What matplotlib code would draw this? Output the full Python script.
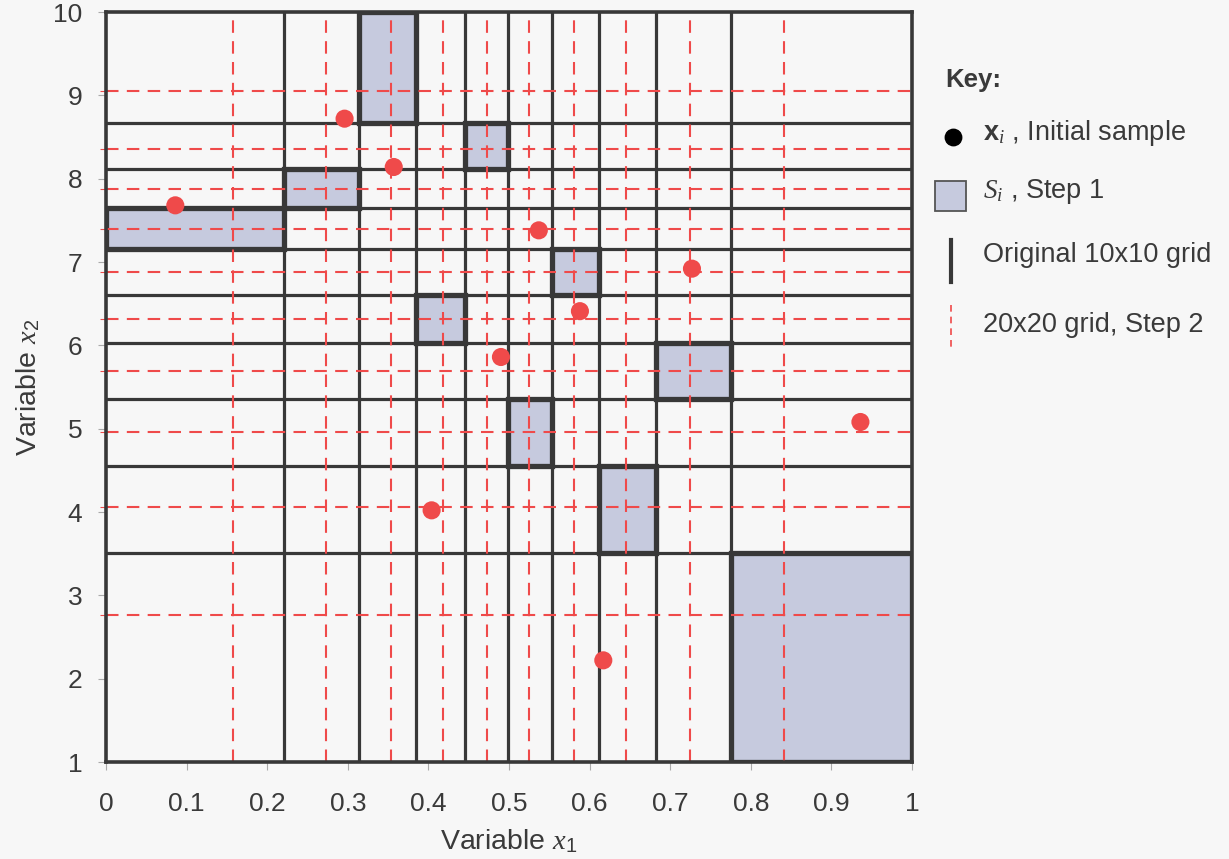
import matplotlib
matplotlib.use("Agg")
import matplotlib.pyplot as plt
from matplotlib.patches import Rectangle
from matplotlib.lines import Line2D

plt.rcParams['font.family'] = ['Liberation Sans', 'DejaVu Sans']
plt.rcParams['mathtext.fontset'] = 'custom'
plt.rcParams['mathtext.rm'] = 'Liberation Sans'
plt.rcParams['mathtext.it'] = 'Liberation Serif:italic'
plt.rcParams['mathtext.bf'] = 'Liberation Sans:bold'
plt.rcParams['mathtext.sf'] = 'Liberation Sans'

# ---- data ----
x_grid = [0.221, 0.314, 0.385, 0.445, 0.499, 0.553, 0.612, 0.682, 0.775]
y_grid = [3.504, 4.556, 5.356, 6.032, 6.604, 7.152, 7.644, 8.112, 8.664]
x_fine = [0.157, 0.273, 0.353, 0.418, 0.473, 0.525, 0.581, 0.645, 0.725, 0.841]
y_fine = [2.764, 4.064, 4.964, 5.696, 6.320, 6.876, 7.392, 7.872, 8.356, 9.056]
sample_x = [0.086, 0.296, 0.357, 0.537, 0.727, 0.490, 0.404, 0.588, 0.936, 0.617]
sample_y = [7.68, 8.72, 8.14, 7.38, 6.92, 5.86, 4.02, 6.41, 5.08, 2.22]
box_rows = [6, 7, 9, 4, 8, 2, 5, 1, 3, 0]   # row index of the shaded cell for each column
x_ticks = [0, 0.1, 0.2, 0.3, 0.4, 0.5, 0.6, 0.7, 0.8, 0.9, 1]
x_ticklabels = ['0', '0.1', '0.2', '0.3', '0.4', '0.5', '0.6', '0.7', '0.8', '0.9', '1']
y_ticks = [1, 2, 3, 4, 5, 6, 7, 8, 9, 10]

BG = '#f7f7f7'
DARK = '#383838'
RED = '#ef4a4a'
FILL = '#c6cade'
TC = '#3a3a3a'

fig = plt.figure(figsize=(12.29, 8.59), dpi=100, facecolor=BG)
ax = fig.add_axes([106/1229, 1-762/859, 806/1229, 750/859])
ax.set_facecolor(BG)
ax.set_xlim(0, 1)
ax.set_ylim(1, 10)

x_edges = [0] + x_grid + [1]
y_edges = [1] + y_grid + [10]

# shaded boxes
for col, row in enumerate(box_rows):
    x0, x1 = x_edges[col], x_edges[col+1]
    y0, y1 = y_edges[row], y_edges[row+1]
    ax.add_patch(Rectangle((x0, y0), x1-x0, y1-y0, facecolor=FILL,
                           edgecolor=DARK, linewidth=3.8, zorder=3))

# original grid
for xv in x_grid:
    ax.axvline(xv, color=DARK, lw=2.3, zorder=2)
for yv in y_grid:
    ax.axhline(yv, color=DARK, lw=2.3, zorder=2)

# fine grid (dashed)
for xv in x_fine:
    ax.axvline(xv, color=RED, lw=1.5, dashes=(6, 4), zorder=4)
for yv in y_fine:
    ax.axhline(yv, color=RED, lw=1.5, dashes=(6, 4), zorder=4)

# samples
ax.scatter(sample_x, sample_y, s=170, color=RED, edgecolors='none', zorder=5)

for sp in ax.spines.values():
    sp.set_color(DARK)
    sp.set_linewidth(2.6)
    sp.set_zorder(6)

ax.set_xticks(x_ticks)
ax.set_xticklabels(x_ticklabels)
ax.set_yticks(y_ticks)
ax.set_yticks(y_fine, minor=True)
ax.tick_params(axis='both', which='major', labelsize=19, labelcolor=TC,
               length=6, width=0.8, direction='out', color='#aaaaaa')
ax.tick_params(axis='x', which='major', pad=15.5)
ax.tick_params(axis='y', which='major', pad=11)
ax.tick_params(axis='y', which='minor', length=4, width=0.8, color=RED)

ax.set_xlabel(r'Variable $x_1$', fontsize=20.5, color=TC, labelpad=8)
ax.set_ylabel(r'Variable $x_2$', fontsize=20.5, color=TC, labelpad=8)

# ---- key ----
kx = fig.add_axes([0, 0, 1, 1], facecolor='none')
kx.set_xlim(0, 1229)
kx.set_ylim(859, 0)
kx.axis('off')

fs = 19.5
kx.text(945, 80, 'Key:', fontsize=18.5, fontweight='bold', color=TC, va='center')
kx.scatter([953], [137], s=140, color='black', zorder=3)
kx.text(983, 133, r'$\mathbf{x}_{i}$ , Initial sample', fontsize=fs, color=TC, va='center')
kx.add_patch(Rectangle((935, 181), 31, 30, facecolor=FILL, edgecolor='#555555', lw=1.3))
kx.text(983, 192, r'$S_{i}$ , Step 1', fontsize=fs, color=TC, va='center')
kx.add_line(Line2D([951, 951], [240, 282], color=DARK, lw=3))
kx.text(983, 255, 'Original 10x10 grid', fontsize=fs, color=TC, va='center')
kx.add_line(Line2D([951, 951], [305, 348], color=RED, lw=1.2, dashes=(4, 3)))
kx.text(983, 325, '20x20 grid, Step 2', fontsize=fs, color=TC, va='center')

fig.savefig('out.png', dpi=100, facecolor=BG)
